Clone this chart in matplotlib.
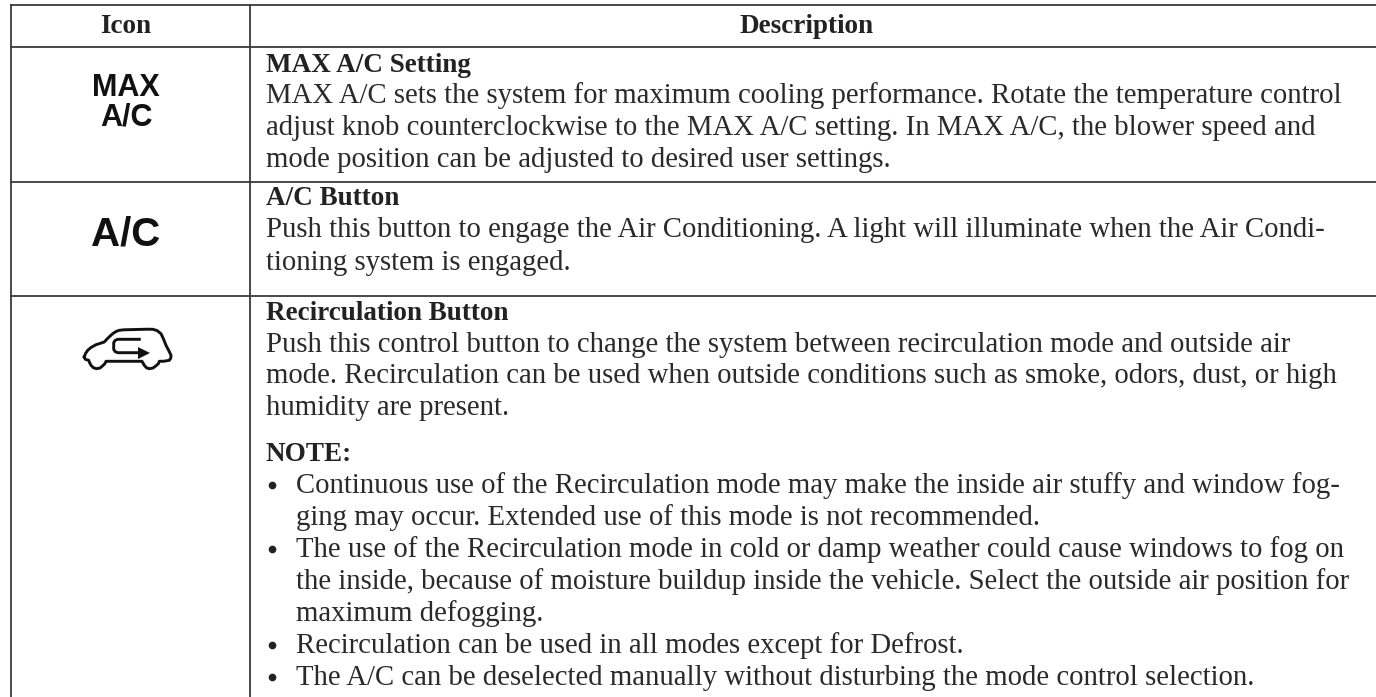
import matplotlib
matplotlib.use("Agg")
import matplotlib.pyplot as plt

# --- table contents ---
headers = ["Icon", "Description"]
header_x = [126, 807]
col_edges = [10, 249]
row_edges = [4.7, 47, 181.5, 295.7]

# (left x, baseline y, text)
bold_lines = [
    (266, 72, "MAX A/C Setting"),
    (266, 205, "A/C Button"),
    (266, 320, "Recirculation Button"),
    (266, 461, "NOTE:"),
]
body_lines = [
    (266, 103, "MAX A/C sets the system for maximum cooling performance. Rotate the temperature control"),
    (266, 135, "adjust knob counterclockwise to the MAX A/C setting. In MAX A/C, the blower speed and"),
    (266, 167, "mode position can be adjusted to desired user settings."),
    (266, 237, "Push this button to engage the Air Conditioning. A light will illuminate when the Air Condi-"),
    (266, 270, "tioning system is engaged."),
    (266, 352, "Push this control button to change the system between recirculation mode and outside air"),
    (266, 383, "mode. Recirculation can be used when outside conditions such as smoke, odors, dust, or high"),
    (266, 415, "humidity are present."),
    (296, 493, "Continuous use of the Recirculation mode may make the inside air stuffy and window fog-"),
    (296, 525, "ging may occur. Extended use of this mode is not recommended."),
    (296, 557, "The use of the Recirculation mode in cold or damp weather could cause windows to fog on"),
    (296, 589, "the inside, because of moisture buildup inside the vehicle. Select the outside air position for"),
    (296, 621, "maximum defogging."),
    (296, 653, "Recirculation can be used in all modes except for Defrost."),
    (296, 685, "The A/C can be deselected manually without disturbing the mode control selection."),
]
bullet_y = [485, 549, 645, 677]

# car pictogram outline
car_x = [84.3, 85.5, 87.7, 91, 96, 104.3, 108, 112.7, 116, 119.3, 124, 148, 152.7, 157, 161, 163.5, 166, 169, 171,
         170.8, 169.3, 164, 159.3, 158.5, 156, 153, 149.3, 146.5, 144.3, 142,
         106, 105, 102.7, 100, 96.7, 93.5, 91, 89.5, 88.7, 85.3, 84.3]
car_y = [357, 353.5, 350.3, 347.5, 344.7, 342, 338, 333.7, 331.5, 330.3, 329.8, 329.2, 329.3, 330.5, 333.7, 339, 345.3, 351, 355.3,
         358, 360.3, 361.2, 361.3, 363.5, 365.8, 368, 368.7, 367.8, 365.3, 361.3,
         361.3, 363.5, 365.8, 368, 368.7, 367.8, 365.3, 362.5, 360.3, 359.3, 357]
arrow_x = [139.3, 117.7, 115, 113.7, 113.7, 115, 117.7, 139.3]
arrow_y = [339.3, 339.3, 340.5, 342.7, 349.3, 351.5, 352.7, 352.7]

fig = plt.figure(figsize=(13.76, 6.97), dpi=100)
ax = fig.add_axes([0, 0, 1, 1])
ax.set_xlim(0, 1376)
ax.set_ylim(697, 0)
ax.axis("off")

line_col = "#3a3a3a"
for x in col_edges:
    ax.plot([x + 0.5, x + 0.5], [row_edges[0], 697], color=line_col, lw=1.3)
for y in row_edges:
    ax.plot([col_edges[0] + 0.5, 1376], [y, y], color=line_col, lw=1.3)

for x, s in zip(header_x, headers):
    ax.text(x, 33, s, family="Liberation Serif", weight="bold", fontsize=19.5,
            ha="center", va="baseline", color="#222222")

for x, y, s in bold_lines:
    ax.text(x, y, s, family="Liberation Serif", weight="bold", fontsize=19.5,
            ha="left", va="baseline", color="#222222")
for x, y, s in body_lines:
    ax.text(x, y, s, family="Liberation Serif", fontsize=20.7,
            ha="left", va="baseline", color="#2a2a2a")
ax.plot([272] * len(bullet_y), bullet_y, "o", color="#222222", ms=5.5, mew=0)

# icons
ax.text(126, 96, "MAX", family="Liberation Sans", weight="bold", fontsize=22,
        ha="center", va="baseline", color="#111111")
ax.text(126, 125, "A/C", family="Liberation Sans", weight="bold", fontsize=22,
        ha="center", va="baseline", color="#111111")
ax.text(126, 245, "A/C", family="Liberation Sans", weight="bold", fontsize=29,
        ha="center", va="baseline", color="#111111")
ax.plot(car_x, car_y, color="#111111", lw=2.1, solid_joinstyle="round")
ax.plot(arrow_x, arrow_y, color="#111111", lw=2.1, solid_joinstyle="round")
ax.plot([144], [352.7], marker=">", color="#111111", ms=8, mew=0)

fig.savefig("out.png", dpi=100)
